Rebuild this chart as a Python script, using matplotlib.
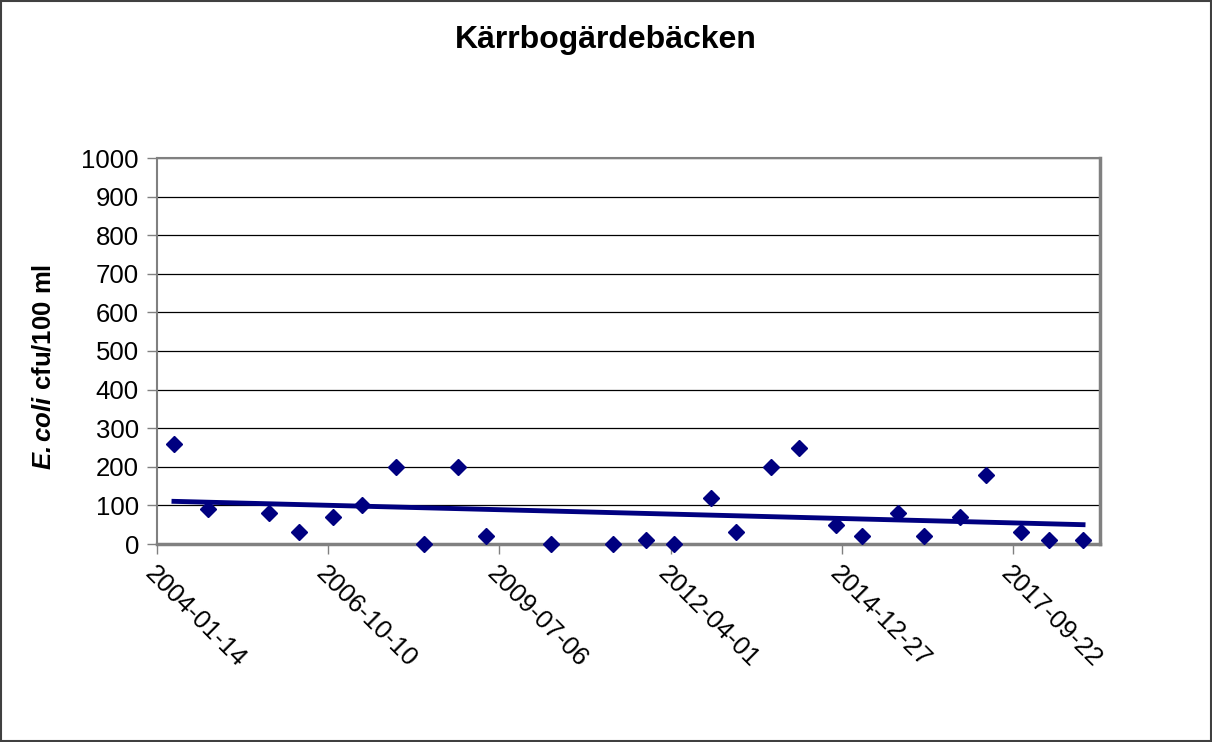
import matplotlib
matplotlib.use("Agg")
import matplotlib.pyplot as plt
import matplotlib.dates as mdates
import numpy as np
from datetime import datetime, timedelta

plt.rcParams['font.family'] = ['Liberation Sans', 'DejaVu Sans']
plt.rcParams['mathtext.fontset'] = 'custom'
plt.rcParams['mathtext.rm'] = 'Liberation Sans'
plt.rcParams['mathtext.bf'] = 'Liberation Sans:bold'
plt.rcParams['mathtext.it'] = 'Liberation Sans:italic'
plt.rcParams['mathtext.bfit'] = 'Liberation Sans:bold:italic'

# sampling dates and E.coli values
dates = ["2004-04-22", "2004-11-07", "2005-10-29", "2006-04-22", "2006-11-07",
         "2007-04-25", "2007-11-10", "2008-04-22", "2008-11-06", "2009-04-19",
         "2010-05-03", "2011-04-30", "2011-11-08", "2012-04-21", "2012-11-23",
         "2013-04-18", "2013-11-09", "2014-04-22", "2014-11-24", "2015-04-25",
         "2015-11-21", "2016-04-21", "2016-11-17", "2017-04-18", "2017-11-09",
         "2018-04-20", "2018-11-05"]
ecoli = [260, 90, 80, 30, 70, 100, 200, 0, 200, 20,
         0, 0, 10, 0, 120, 30, 200, 250, 50, 20,
         80, 20, 70, 180, 30, 10, 10]

title = "Kärrbogärdebäcken"
ylabel = r"$\mathbfit{E.coli}$ cfu/100 ml"

x_start = datetime(2004, 1, 14)
x_end = datetime(2019, 2, 12)
tick_step_days = 1000

dt = [datetime.strptime(d, "%Y-%m-%d") for d in dates]
xn = mdates.date2num(dt)

fig = plt.figure(figsize=(12.12, 7.42), dpi=100)
ax = fig.add_axes([157 / 1212, 1 - 544 / 742, 943 / 1212, 386 / 742])

navy = "#000080"
grey = "#808080"

ax.plot(xn, ecoli, linestyle="none", marker="D", markersize=8,
        color=navy, zorder=3, clip_on=False)

# linear trend line
k, m = np.polyfit(xn, ecoli, 1)
tx = np.array([xn[0], xn[-1]])
ax.plot(tx, k * tx + m, color=navy, linewidth=3.5, zorder=2)

ax.set_ylim(0, 1000)
ax.set_yticks(np.arange(0, 1001, 100))
ax.set_xlim(mdates.date2num(x_start), mdates.date2num(x_end))
ticks = [x_start + timedelta(days=tick_step_days * i) for i in range(6)]
ax.set_xticks(mdates.date2num(ticks))
ax.xaxis.set_major_formatter(mdates.DateFormatter("%Y-%m-%d"))

ax.grid(axis="y", color="black", linewidth=0.9)
ax.set_axisbelow(True)
for s in ax.spines.values():
    s.set_color(grey)
    s.set_linewidth(1.5)
ax.spines["right"].set_linewidth(2.5)
ax.spines["bottom"].set_linewidth(2.5)

ax.tick_params(axis="both", direction="out", length=7, width=1, color=grey,
               labelsize=18.5, pad=6)
for lab in ax.get_xticklabels():
    lab.set_rotation(-45)
    lab.set_ha("left")
    lab.set_va("top")
    lab.set_rotation_mode("anchor")

ax.set_ylabel(ylabel, fontsize=18.5, fontweight="bold")
ax.yaxis.set_label_coords(-0.108, 0.46)

fig.text(0.5, 1 - 40 / 742, title, ha="center", va="center",
         fontsize=23, fontweight="bold")

# outer chart border
fig.patches.append(plt.Rectangle((0.001, 0.001), 0.998, 0.997,
                                 transform=fig.transFigure, fill=False,
                                 edgecolor="#404040", linewidth=1.5))

fig.savefig("out.png", dpi=100)
